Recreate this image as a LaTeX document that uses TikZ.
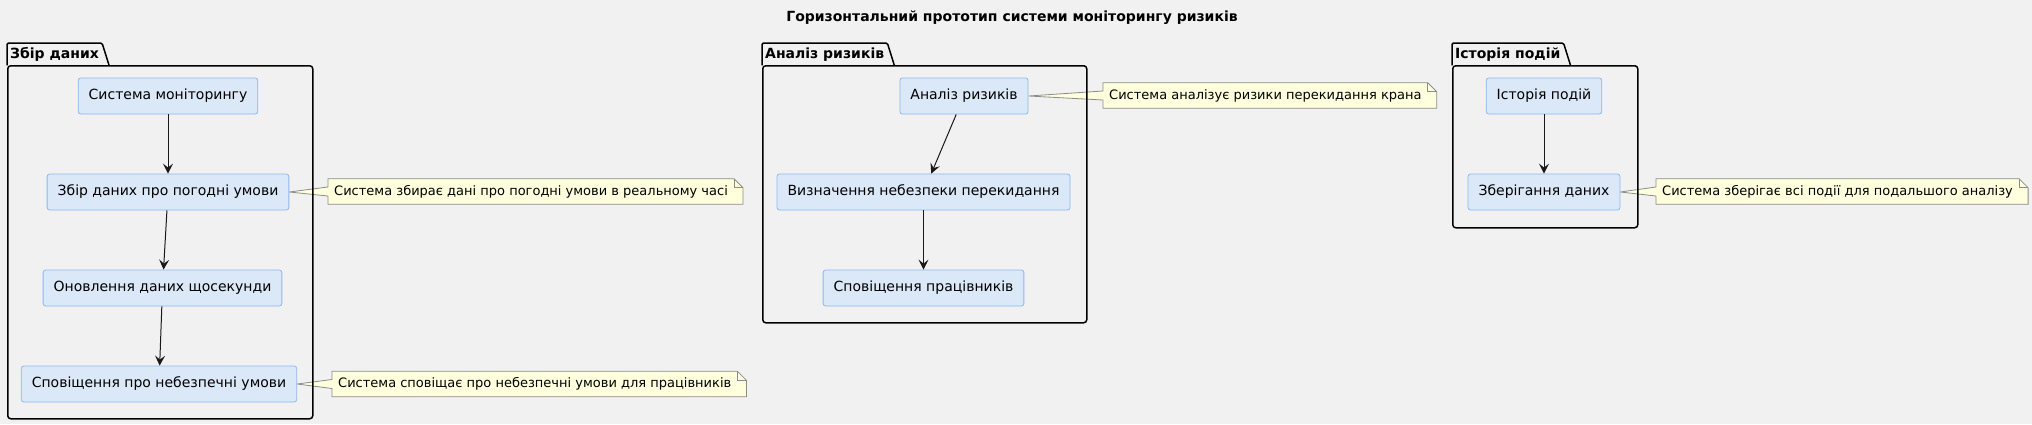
\documentclass[tikz,border=0pt]{standalone}
\usepackage{fontspec}
\setmainfont{DejaVu Sans}
\usetikzlibrary{arrows.meta,positioning,backgrounds}
\definecolor{bgcol}{HTML}{F1F1F1}
\definecolor{boxfill}{HTML}{DAE8F7}
\definecolor{boxline}{HTML}{8DB8EE}
\definecolor{memofill}{HTML}{FEFFDD}
\definecolor{memoline}{HTML}{8C8C8C}

\begin{document}
\begin{tikzpicture}[x=1pt,y=-1pt,>={Stealth[length=10pt,width=10pt,inset=4pt]},
      act/.style={rectangle,rounded corners=2.5pt,draw=boxline,fill=boxfill,line width=0.8pt,minimum height=36pt,inner xsep=10.5pt,font=\fontsize{14pt}{16pt}\selectfont},
      pkg/.style={draw=black,line width=1.5pt},
      pkgname/.style={anchor=north west,minimum height=22pt,inner xsep=3pt,inner ysep=0pt,font=\bfseries\fontsize{14pt}{16pt}\selectfont},
      pkgbox/.style={pkg,rounded corners=3pt,anchor=north west,inner sep=0pt},
      memo/.style={anchor=west,minimum height=25pt,inner xsep=6pt,inner ysep=0pt,font=\fontsize{13pt}{15pt}\selectfont},
      memoframe/.style={draw=memoline,fill=memofill,line width=0.8pt},
      flow/.style={->,line width=1pt,draw=black!90}]
      \useasboundingbox (0,0) rectangle (2032,424);

      \node[font=\bfseries\fontsize{14pt}{16pt}\selectfont] (title) at (1012,18) {Горизонтальний прототип системи моніторингу ризиків};

      \node[pkgname] (t1) at (7,43) {Збір даних};
      \node[pkgbox,minimum width=305pt,minimum height=353pt] (g1) at (7,65) {};
      \draw[pkg,rounded corners=1.5pt] (t1.south west) -- (t1.north west) -- (t1.north east) -- ([xshift=7pt]t1.south east);
      \node[pkgname] (t2) at (762,43) {Аналіз ризиків};
      \node[pkgbox,minimum width=324pt,minimum height=257pt] (g2) at (762,65) {};
      \draw[pkg,rounded corners=1.5pt] (t2.south west) -- (t2.north west) -- (t2.north east) -- ([xshift=7pt]t2.south east);
      \node[pkgname] (t3) at (1452,43) {Історія подій};
      \node[pkgbox,minimum width=185pt,minimum height=162pt] (g3) at (1452,65) {};
      \draw[pkg,rounded corners=1.5pt] (t3.south west) -- (t3.north west) -- (t3.north east) -- ([xshift=7pt]t3.south east);

      \node[act] (s1) at (168,96) {Система моніторингу};
      \node[act] (s2) at (168,192) {Збір даних про погодні умови};
      \node[act] (s3) at (162.5,288) {Оновлення даних щосекунди};
      \node[act] (s4) at (159,384) {Сповіщення про небезпечні умови};

      \node[act] (a1) at (964,96) {Аналіз ризиків};
      \node[act] (a2) at (923.5,192) {Визначення небезпеки перекидання};
      \node[act] (a3) at (923.5,288) {Сповіщення працівників};

      \node[act] (h1) at (1544,96) {Історія подій};
      \node[act] (h2) at (1544,192) {Зберігання даних};

      \path
        (s1) edge[flow] (s2)
        (s2) edge[flow] (s3)
        (s3) edge[flow] (s4)
        (a1) edge[flow] (a2)
        (a2) edge[flow] (a3)
        (h1) edge[flow] (h2)
        ;

      \node[memo] (n1) at (328,191.5) {Система збирає дані про погодні умови в реальному часі};
      \node[memo] (n2) at (332,384) {Система сповіщає про небезпечні умови для працівників};
      \node[memo] (n3) at (1103,95.5) {Система аналізує ризики перекидання крана};
      \node[memo] (n4) at (1656,191.5) {Система зберігає всі події для подальшого аналізу};

      \begin{scope}[on background layer]
        \fill[bgcol] (0,0) rectangle (2032,424);
        \foreach \n/\b in {n1/s2,n2/s4,n3/a1,n4/h2} {
          \path[memoframe] (\n.north west) -- (\n.north east) -- ([xshift=9pt,yshift=-9pt]\n.north east) -- ([xshift=9pt]\n.south east) -- (\n.south west) -- ([yshift=-4.5pt]\n.west) -- (\b.east) -- ([yshift=4.5pt]\n.west) -- cycle;
          \draw[memoline,line width=0.8pt] (\n.north east) -- ([yshift=-9pt]\n.north east) -- ([xshift=9pt,yshift=-9pt]\n.north east);
        }
      \end{scope}
    \end{tikzpicture}
\end{document}
